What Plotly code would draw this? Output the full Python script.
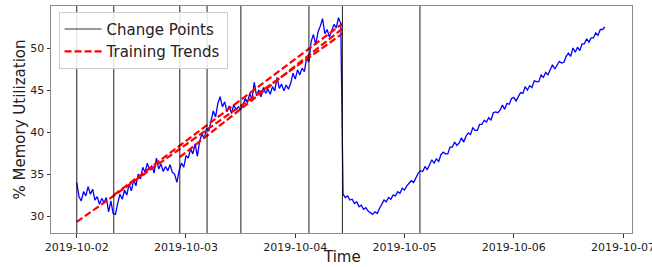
import pandas as pd
import plotly.graph_objects as go

# ---- data ----
series_start = "2019-10-02 00:00"
series_step = "30min"
memory_util = [
    34.0, 32.3, 31.8, 32.9, 32.4, 33.5, 32.6, 33.2, 31.9, 32.3, 31.4, 32.1, 31.6, 32.2, 30.5, 31.8, 30.3,
    30.2, 31.5, 32.6, 32.0, 33.1, 32.5, 33.8, 33.0, 34.3, 33.6, 35.0, 34.4, 35.8, 35.2, 36.3, 35.5, 36.0,
    35.1, 36.9, 35.6, 36.2, 35.3, 35.9, 35.4, 36.1, 35.2, 35.0, 34.0, 35.4,
    36.3, 35.8, 37.2, 36.9, 38.0, 37.4, 38.6, 37.1, 38.9, 39.8, 39.2, 40.4,
    40.1, 41.3, 42.5, 41.8, 43.4, 44.2, 43.0, 43.6, 42.4, 43.1, 42.2, 43.3, 42.6, 43.0, 42.7,
    43.1, 44.0, 43.5, 44.6, 43.9, 45.9, 44.3, 45.0, 44.2, 45.3, 44.6, 45.1, 44.5, 45.4, 44.9, 46.5,
    45.2, 45.7, 44.9, 45.6, 45.1, 45.8, 47.0, 46.3, 47.4, 46.8, 47.6, 47.2, 48.8, 48.3,
    50.8, 51.6, 50.4, 51.9, 52.6, 53.5, 51.7, 52.2, 51.3, 52.0, 52.8, 52.4, 53.6, 52.9,
    32.6, 32.2, 32.4, 31.9, 32.0, 31.5, 31.7, 31.1, 31.3, 30.8, 31.0, 30.6, 30.4, 30.2, 30.5, 30.3,
    30.9, 31.4, 31.9, 31.7, 32.2, 32.0, 32.5, 32.4, 32.9, 32.7, 33.3, 33.1, 33.6, 33.9, 34.2, 34.0,
    34.6, 35.1,
    35.4, 35.3, 35.9, 35.5, 36.1, 36.7, 36.3, 36.8, 36.5, 37.3, 37.6, 37.4, 37.4, 38.2, 38.2, 38.8,
    38.4, 38.7, 39.3, 38.8, 39.5, 39.9, 39.7, 40.5, 40.2, 40.2, 40.9, 40.9, 41.4, 41.2, 41.7, 41.4,
    42.3, 42.4, 42.3, 42.6, 43.2, 42.7, 43.4, 43.3, 44.0, 44.1, 43.7, 44.3, 44.7, 44.6, 45.4, 45.0,
    45.5, 45.3, 46.1, 46.0, 46.0, 46.8, 46.5, 47.1, 46.8, 47.4, 48.0, 47.5, 47.9, 48.4, 48.2, 48.3,
    49.0, 49.4, 49.0, 50.0, 49.5, 50.1, 49.7, 50.5, 50.5, 51.1, 50.7, 51.2, 51.2, 51.8, 51.5, 52.2,
    52.2, 52.5,
]

change_points = [
    "2019-10-02 00:00", "2019-10-02 08:08", "2019-10-02 22:38", "2019-10-03 04:38",
    "2019-10-03 12:03", "2019-10-04 03:00", "2019-10-04 10:22", "2019-10-05 03:23",
]

trend_start_times = ["2019-10-02 00:00", "2019-10-02 08:08", "2019-10-02 22:38"]
trend_start_values = [29.3, 32.5, 37.0]
trend_end_times = ["2019-10-04 10:22", "2019-10-04 10:22", "2019-10-04 10:22"]
trend_end_values = [51.7, 52.9, 52.3]

x_tick_labels = ["2019-10-02", "2019-10-03", "2019-10-04", "2019-10-05", "2019-10-06", "2019-10-07"]
y_ticks = [30, 35, 40, 45, 50]

# ---- figure ----
times = pd.date_range(series_start, periods=len(memory_util), freq=series_step)

fig = go.Figure()

fig.add_trace(go.Scatter(
    x=times, y=memory_util, mode="lines",
    line=dict(color="#0000ff", width=1.3), showlegend=False, hoverinfo="skip",
))

trend_x, trend_y = [], []
for t0, v0, t1, v1 in zip(trend_start_times, trend_start_values, trend_end_times, trend_end_values):
    trend_x += [t0, t1, None]
    trend_y += [v0, v1, None]
fig.add_trace(go.Scatter(
    x=trend_x, y=trend_y, mode="lines", name="Training Trends",
    line=dict(color="#ff0000", width=2.2, dash="7px,3px"), showlegend=False,
))

for cp in change_points:
    fig.add_shape(type="line", xref="x", yref="paper", x0=cp, x1=cp, y0=0, y1=1,
                  line=dict(color="rgba(0,0,0,0.8)", width=1.1), layer="above")

# legend entries
fig.add_trace(go.Scatter(x=[None], y=[None], mode="lines", name="Change Points",
                         line=dict(color="rgba(0,0,0,0.8)", width=1.1)))
fig.add_trace(go.Scatter(x=[None], y=[None], mode="lines", name="Training Trends",
                         line=dict(color="#ff0000", width=2.2, dash="7px,3px")))

fig.update_layout(
    width=652, height=267,
    margin=dict(l=51, r=20, t=6, b=34, autoexpand=False),
    paper_bgcolor="white", plot_bgcolor="white",
    font=dict(family="DejaVu Sans", color="#222222", size=11),
    legend=dict(x=0.013, y=0.975, xanchor="left", yanchor="top", itemwidth=37,
                bgcolor="rgba(255,255,255,0.85)", bordercolor="#cccccc", borderwidth=1,
                font=dict(size=15, color="#222222"), tracegroupgap=0),
    showlegend=True,
    annotations=[
        dict(text="% Memory Utilization", xref="paper", yref="paper", x=-0.0534, y=0.5,
             xanchor="center", yanchor="middle", textangle=-90, showarrow=False,
             font=dict(size=15, color="#222222")),
        dict(text="Time", xref="paper", yref="paper", x=0.5, y=-0.107,
             xanchor="center", yanchor="middle", showarrow=False,
             font=dict(size=15, color="#222222")),
    ],
)
fig.update_xaxes(
    range=["2019-10-01 18:21", "2019-10-07 01:58"], automargin=False,
    tickvals=x_tick_labels, ticktext=x_tick_labels, ticklabeloverflow="allow",
    ticks="outside", ticklen=3.5, tickcolor="#333", showgrid=False, zeroline=False,
    showline=True, mirror=True, linecolor="#8c8c8c", linewidth=1,
    tickfont=dict(size=11),
)
fig.update_yaxes(
    range=[27.98, 55.0], tickvals=y_ticks, automargin=False,
    ticks="outside", ticklen=3.5, tickcolor="#333", showgrid=False, zeroline=False,
    showline=True, mirror=True, linecolor="#8c8c8c", linewidth=1,
    tickfont=dict(size=11),
)

fig.write_html("out.html", config={"displayModeBar": False},
               post_script="document.body.style.margin='0';")
